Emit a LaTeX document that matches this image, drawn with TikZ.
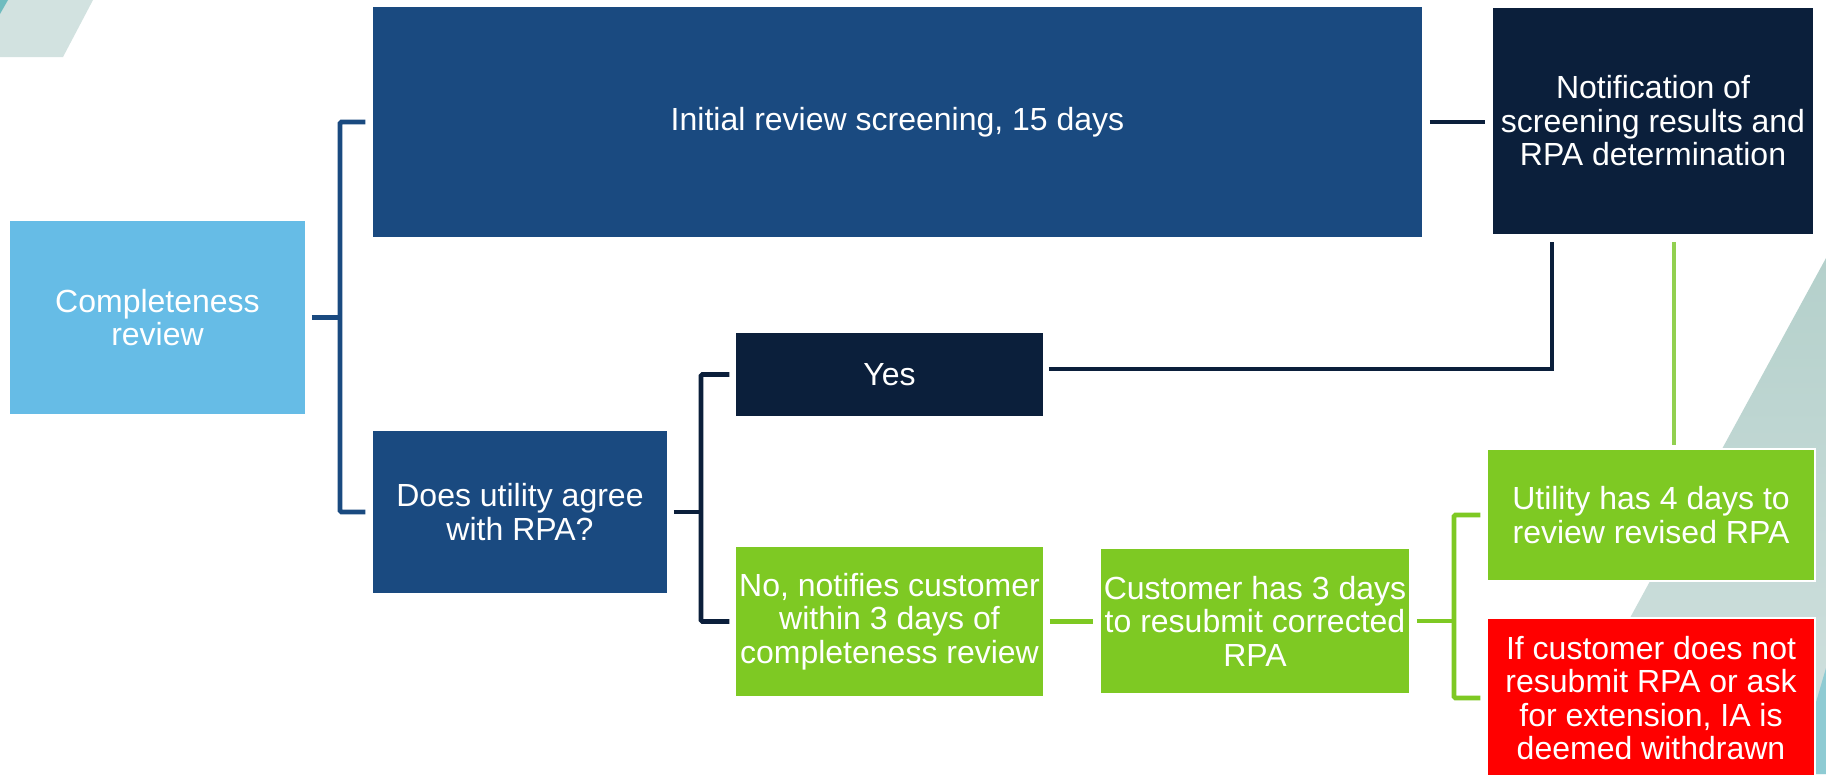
\documentclass[tikz,border=0pt]{standalone}
\usepackage{fontspec}
\setmainfont{Liberation Sans}
\definecolor{lblue}{HTML}{66BCE6}
\definecolor{mblue}{HTML}{1A4A80}
\definecolor{navy}{HTML}{0B1F3B}
\definecolor{grn}{HTML}{7EC923}
\definecolor{lgrn}{HTML}{92D050}
\definecolor{rd}{HTML}{FF0000}
\definecolor{bgteal}{HTML}{D2E2E0}
\definecolor{dteal}{HTML}{6FBCBF}
\definecolor{tealtop}{HTML}{B4D0CB}
\definecolor{tealbot}{HTML}{D3E2E0}
\definecolor{bteal}{HTML}{8ECBD3}
\begin{document}
\begin{tikzpicture}[x=1pt,y=-1pt,
  box/.style={rectangle, draw=white, line width=1.5pt, inner sep=0pt, text=white,
    align=center, font=\fontsize{32}{33.5}\selectfont},
  lk/.style={line width=4.8pt, rounded corners=1.5pt},
  lks/.style={line width=4.8pt, line join=miter}]
\useasboundingbox (0,0) rectangle (1826,774);
\clip (0,0) rectangle (1826,774);
\fill[white] (0,0) rectangle (1826,774);
% background decorations
\fill[bgteal] (0,0) -- (93,0) -- (63,57) -- (0,57) -- cycle;
\fill[dteal] (0,0) -- (8,0) -- (0,14) -- cycle;
\shade[top color=tealtop, bottom color=tealbot] (1826,258) -- (1826,774) -- (1545,774) -- cycle;
\fill[bteal] (1826,668) -- (1826,774) -- (1795,774) -- cycle;
% nodes
\node[box, fill=lblue, minimum width=297pt, minimum height=195pt] (comp) at (157.5,317.5) {Completeness\\review};
\node[box, fill=mblue, minimum width=1051pt, minimum height=232pt] (init) at (897.5,122) {Initial review screening, 15 days};
\node[box, fill=navy, minimum width=322pt, minimum height=228pt] (notif) at (1653,121) {Notification of\\screening results and\\RPA determination};
\node[box, fill=mblue, minimum width=296pt, minimum height=164pt] (does) at (520,512) {Does utility agree\\with RPA?};
\node[box, fill=navy, minimum width=309pt, minimum height=85pt] (yes) at (889.5,374.5) {Yes};
\node[box, fill=grn, minimum width=309pt, minimum height=151pt] (no) at (889.5,621.5) {No, notifies customer\\within 3 days of\\completeness review};
\node[box, fill=grn, minimum width=310pt, minimum height=146pt] (cust) at (1255,621) {Customer has 3 days\\to resubmit corrected\\RPA};
\node[box, fill=grn, minimum width=328pt, minimum height=132pt] (util) at (1651,515) {Utility has 4 days to\\review revised RPA};
\node[box, fill=rd, minimum width=328pt, minimum height=160pt] (red) at (1651,698) {If customer does not\\resubmit RPA or ask\\for extension, IA is\\deemed withdrawn};
% connectors
\coordinate (j1) at (340,317.5);
\draw[lk, mblue, shorten <=5pt] (comp.east) -- (j1);
\draw[lk, mblue, shorten <=6pt, shorten >=6pt] (init.west) -| (j1) |- (does.west);
\coordinate (j2) at (701,512);
\draw[lk, navy, shorten <=5pt] (does.east) -- (j2);
\draw[lk, navy, shorten <=5pt, shorten >=5pt] (yes.west) -| (j2) |- (no.west);
\coordinate (k) at (1552,369);
\draw[lks, navy, shorten <=4pt, shorten >=6pt] (yes.east |- k) -- (k) -- (k |- notif.south);
\draw[lks, navy, shorten <=6pt, shorten >=6pt] (init.east) -- (init.east -| notif.west);
\coordinate (g) at (1674,0);
\draw[lks, lgrn, shorten <=6pt, shorten >=3pt] (g |- notif.south) -- (g |- util.north);
\draw[lks, grn, shorten <=5pt, shorten >=6pt] (no.east) -- (no.east -| cust.west);
\coordinate (j3) at (1454,621);
\draw[lk, grn, shorten <=6pt] (cust.east) -- (j3);
\draw[lk, grn, shorten <=6pt, shorten >=6pt] (util.west) -| (j3) |- (red.west);
\end{tikzpicture}
\end{document}
